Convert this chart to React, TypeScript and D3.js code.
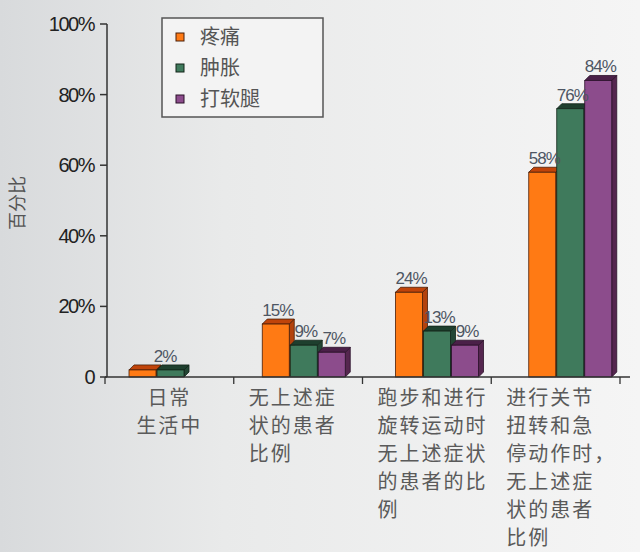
import React from "react";
import * as d3 from "d3";

const categories = ["日常生活中", "无上述症状的患者比例", "跑步和进行旋转运动时无上述症状的患者的比例", "进行关节扭转和急停动作时，无上述症状的患者比例"];
const categoryLines = [
  ["日常", "生活中"],
  ["无上述症", "状的患者", "比例"],
  ["跑步和进行", "旋转运动时", "无上述症状", "的患者的比", "例"],
  ["进行关节", "扭转和急", "停动作时，", "无上述症", "状的患者", "比例"],
];
const seriesNames = ["疼痛", "肿胀", "打软腿"];
const painValues = [2, 15, 24, 58];
const swellingValues = [2, 9, 13, 76];
const givingWayValues = [0, 7, 9, 84];
const painLabels = ["", "15%", "24%", "58%"];
const swellingLabels = ["2%", "9%", "13%", "76%"];
const givingWayLabels = ["", "7%", "9%", "84%"];
const yTicks = [0, 20, 40, 60, 80, 100];
const yTickLabels = ["0", "20%", "40%", "60%", "80%", "100%"];

const colors = [
  { front: "#ff7a14", top: "#c0440a", side: "#b3420c", stroke: "#4a1e08" },
  { front: "#3f7a5c", top: "#1e3f2e", side: "#234634", stroke: "#122519" },
  { front: "#8c4c8c", top: "#4a2048", side: "#55264f", stroke: "#2a1028" },
];

export default function App() {
  const W = 640, H = 552;
  const y = d3.scaleLinear().domain([0, 100]).range([377, 24]);
  const xTick = d3.scaleBand<string>().domain(categories).range([105, 620]);
  const xBar = d3.scaleBand<string>().domain(categories).range([105, 638]);
  const inner = d3.scaleBand<number>().domain([0, 1, 2]).range([0, 84]);
  const barW = 27, depth = 5;
  const series = [painValues, swellingValues, givingWayValues];
  const labels = [painLabels, swellingLabels, givingWayLabels];
  const font = "'Liberation Sans', Arial, sans-serif";
  const cjk = "'Noto Sans CJK SC', sans-serif";

  return (
    <svg width={W} height={H} style={{ position: "absolute", left: 0, top: 0 }}>
      <defs>
        <linearGradient id="bg" x1="0" x2="1" y1="0" y2="0">
          <stop offset="0" stopColor="#d8dadc" />
          <stop offset="0.35" stopColor="#e9eaea" />
          <stop offset="1" stopColor="#f5f5f5" />
        </linearGradient>
      </defs>
      <rect width={W} height={H} fill="url(#bg)" />

      {/* legend */}
      <rect x={162} y={18} width={161} height={99} fill="#f3f3f3" stroke="#555" strokeWidth={1.5} />
      {seriesNames.map((n, i) => (
        <g key={n}>
          <rect x={176} y={33 + i * 31} width={8} height={8} fill={colors[i].front} stroke={colors[i].stroke} strokeWidth={1} />
          <text x={200} y={44 + i * 31} fontFamily={cjk} fontSize={20} fill="#555">
            {n}
          </text>
        </g>
      ))}

      {/* bars */}
      {categories.map((c, ci) => {
        const gx = (xBar(c) as number) + 24;
        return (
          <g key={c}>
            {series.map((vals, si) => {
              const v = vals[ci];
              if (v <= 0) return null;
              const x0 = gx + (inner(si) as number);
              const yt = y(v);
              const yb = y(0);
              const col = colors[si];
              return (
                <g key={si}>
                  <polygon
                    points={`${x0 + barW},${yt} ${x0 + barW + depth},${yt - depth} ${x0 + barW + depth},${yb - depth} ${x0 + barW},${yb}`}
                    fill={col.side}
                    stroke={col.stroke}
                    strokeWidth={0.8}
                  />
                  <polygon
                    points={`${x0},${yt} ${x0 + depth},${yt - depth} ${x0 + barW + depth},${yt - depth} ${x0 + barW},${yt}`}
                    fill={col.top}
                    stroke={col.stroke}
                    strokeWidth={0.8}
                  />
                  <rect x={x0} y={yt} width={barW} height={yb - yt} fill={col.front} stroke={col.stroke} strokeWidth={0.8} />
                </g>
              );
            })}
            {series.map((vals, si) => {
              const lab = labels[si][ci];
              if (!lab) return null;
              const v = vals[ci];
              let cx = gx + (inner(si) as number) + barW / 2 + 2;
              if (ci === 0) cx = gx + (inner(si) as number) + 8;
              return (
                <text key={"l" + si} x={cx} y={y(v) - depth - 3} textAnchor="middle" fontFamily={font} fontSize={17} fill="#4e5663" letterSpacing={-1}>
                  {lab}
                </text>
              );
            })}
          </g>
        );
      })}

      {/* axes */}
      <line x1={107} x2={107} y1={y(100)} y2={y(0)} stroke="#333" strokeWidth={1.5} />
      <line x1={105} x2={630} y1={y(0)} y2={y(0)} stroke="#333" strokeWidth={1.5} />
      {yTicks.map((t, i) => (
        <g key={t}>
          <line x1={100} x2={107} y1={y(t)} y2={y(t)} stroke="#333" strokeWidth={1.5} />
          <text x={94} y={y(t) + 7} textAnchor="end" fontFamily={font} fontSize={20} fill="#222" letterSpacing={-1.5}>
            {yTickLabels[i]}
          </text>
        </g>
      ))}
      {categories.map((c) => (
        <line key={"t" + c} x1={(xTick(c) as number) + xTick.bandwidth()} x2={(xTick(c) as number) + xTick.bandwidth()} y1={y(0)} y2={y(0) + 7} stroke="#333" strokeWidth={1.3} />
      ))}
      <line x1={105} x2={105} y1={y(0)} y2={y(0) + 7} stroke="#333" strokeWidth={1.3} />

      {/* y title */}
      <text transform={`translate(24,203) rotate(-90)`} textAnchor="middle" fontFamily={cjk} fontSize={18} fill="#555">
        百分比
      </text>

      {/* category labels */}
      {categories.map((c, ci) => {
        const bx = xTick(c) as number;
        const centered = ci === 0;
        const x = centered ? bx + xTick.bandwidth() / 2 : bx + 15;
        return (
          <text key={"c" + c} fontFamily={cjk} fontSize={20} fill="#5a5a5a" textAnchor={centered ? "middle" : "start"} letterSpacing={2}>
            {categoryLines[ci].map((ln, li) => (
              <tspan key={li} x={x} y={405 + li * 28}>
                {ln}
              </tspan>
            ))}
          </text>
        );
      })}
    </svg>
  );
}
